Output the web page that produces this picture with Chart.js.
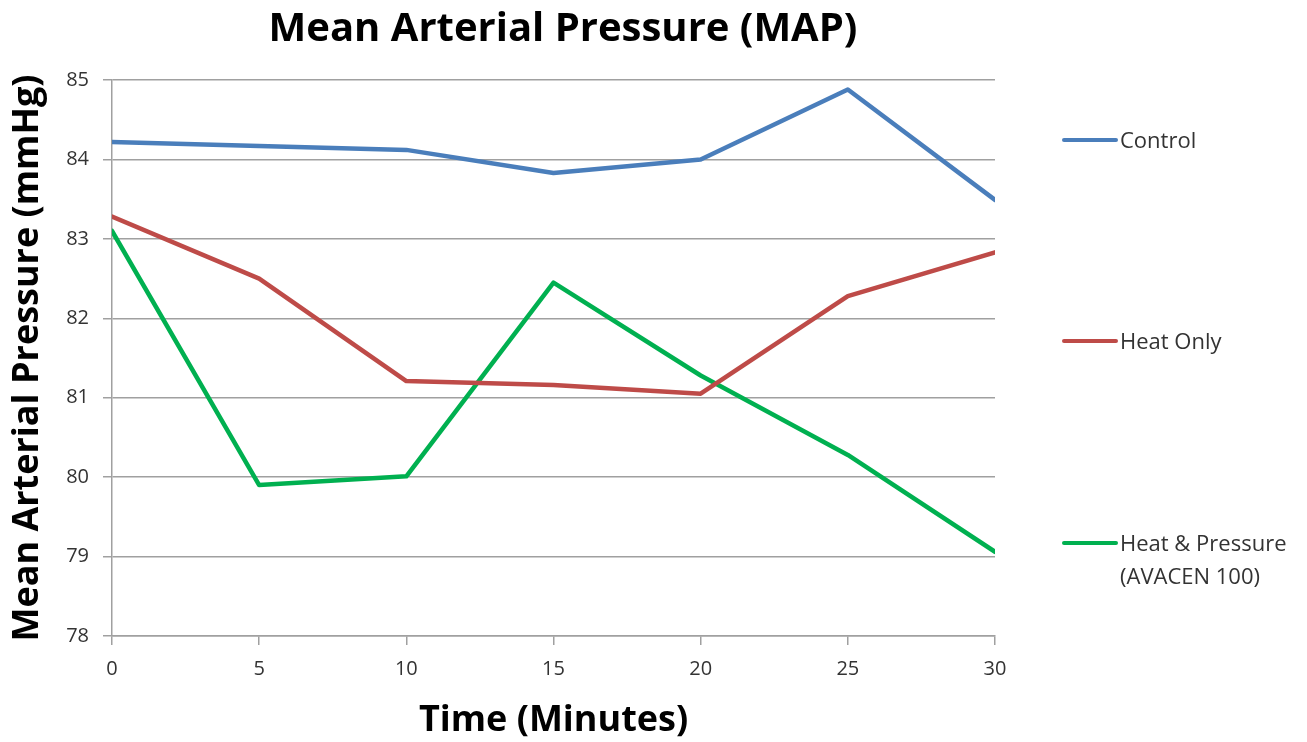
<!DOCTYPE html>
<html lang="en">
<head>
    <meta charset="UTF-8">
    <script src="https://cdn.jsdelivr.net/npm/chart.js"></script>
    <title>Mean Arterial Pressure (MAP)</title>
    <style>
        body { margin: 0; background: #fff; font-family: "Open Sans", sans-serif; }
        .wrap { position: relative; width: 1307px; height: 742px; }
        .graph { position: absolute; left: 0; top: 0; width: 1126px; height: 742px; }
        .legend { position: absolute; left: 1062px; top: 0; }
        .legend .item { position: absolute; left: 0; width: 245px; white-space: nowrap; }
        .legend .swatch { position: absolute; left: 0; width: 56px; height: 4px; border-radius: 2px; }
        .legend .text { position: absolute; left: 58px; font-size: 22px; line-height: 33px; color: #333; }
    </style>
</head>
<body>
    <div class="wrap">
        <div class="graph">
            <canvas id="lineChartMap"></canvas>
        </div>
        <div class="legend" id="legend"></div>
    </div>

    <script>
        const minutes = [0, 5, 10, 15, 20, 25, 30];

        const control = [84.22, 84.17, 84.12, 83.83, 84.00, 84.88, 83.49];
        const heatOnly = [83.28, 82.50, 81.21, 81.16, 81.05, 82.28, 82.83];
        const heatPressure = [83.10, 79.90, 80.01, 82.45, 81.28, 80.28, 79.06];

        const seriesNames = ['Control', 'Heat Only', 'Heat & Pressure\n(AVACEN 100)'];
        const seriesColors = ['#4a7ebb', '#be4b48', '#00b050'];

        const toPoints = vals => minutes.map((m, i) => ({ x: m, y: vals[i] }));

        const ctxMap = document.getElementById('lineChartMap').getContext('2d');

        const dataMap = {
            datasets: [control, heatOnly, heatPressure].map((vals, i) => ({
                label: seriesNames[i],
                data: toPoints(vals),
                borderColor: seriesColors[i],
                backgroundColor: seriesColors[i],
                borderWidth: 4.5,
                pointRadius: 0,
                tension: 0,
                borderJoinStyle: 'round',
                borderCapStyle: 'round',
                fill: false,
            }))
        };

        const fontName = 'Open Sans';
        const tickFont = { family: fontName, size: 20 };
        const titleFont = { family: fontName, size: 36, weight: 'bold' };

        const configMap = {
            type: 'line',
            data: dataMap,
            options: {
                responsive: true,
                maintainAspectRatio: false,
                animation: false,
                plugins: {
                    title: {
                        display: true,
                        text: 'Mean Arterial Pressure (MAP)',
                        color: '#000',
                        font: { family: fontName, size: 40, weight: 'bold', lineHeight: 1.2 },
                        padding: { top: 6, bottom: 26 }
                    },
                    legend: { display: false },
                    tooltip: { enabled: false }
                },
                scales: {
                    x: {
                        type: 'linear',
                        min: 0,
                        max: 30,
                        ticks: { stepSize: 5, color: '#333', font: tickFont, padding: 12 },
                        grid: { drawOnChartArea: false, drawTicks: true, tickLength: 9, color: '#a0a0a0', lineWidth: 1.5 },
                        border: { color: '#a0a0a0', width: 1.5 },
                        title: {
                            display: true,
                            text: 'Time (Minutes)',
                            color: '#000',
                            font: titleFont,
                            padding: { top: 0, bottom: 0 }
                        },
                        afterFit: scale => { scale.height = 106; }
                    },
                    y: {
                        min: 78,
                        max: 85,
                        ticks: { stepSize: 1, color: '#333', font: tickFont, padding: 14 },
                        grid: { drawTicks: true, tickLength: 9, color: '#a0a0a0', lineWidth: 1.5 },
                        border: { color: '#a0a0a0', width: 1.5 },
                        title: {
                            display: true,
                            text: 'Mean Arterial Pressure (mmHg)',
                            color: '#000',
                            font: titleFont,
                            padding: { top: 6, bottom: 0 }
                        },
                        afterFit: scale => { scale.width = 112; }
                    },
                    // empty right-hand box, keeps room for the legend without shifting the title
                    yRight: {
                        position: 'right',
                        display: true,
                        min: 78,
                        max: 85,
                        ticks: { display: false },
                        grid: { display: false },
                        border: { display: false },
                        afterFit: scale => { scale.width = 131; }
                    }
                }
            }
        };

        const lineChartMap = new Chart(ctxMap, configMap);

        // legend sits beside the plot like the Excel original
        const legendRows = [140, 341, 543];
        const legendBox = document.getElementById('legend');
        lineChartMap.data.datasets.forEach((ds, i) => {
            const item = document.createElement('div');
            item.className = 'item';
            item.style.top = legendRows[i] + 'px';

            const swatch = document.createElement('div');
            swatch.className = 'swatch';
            swatch.style.background = ds.borderColor;
            swatch.style.top = '-2px';

            const text = document.createElement('div');
            text.className = 'text';
            text.style.top = '-17px';
            text.innerHTML = ds.label.split('\n').join('<br>');

            item.appendChild(swatch);
            item.appendChild(text);
            legendBox.appendChild(item);
        });
    </script>
</body>
</html>
